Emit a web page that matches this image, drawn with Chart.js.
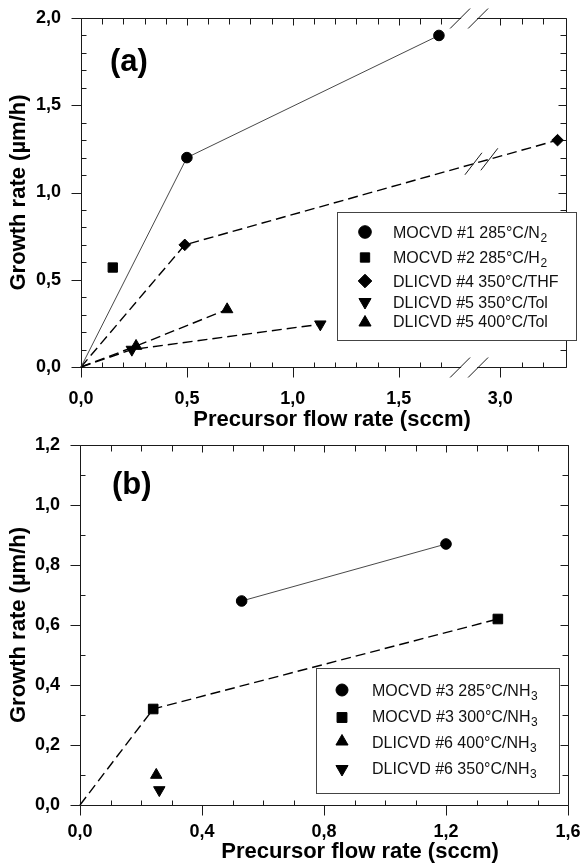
<!DOCTYPE html>
<html><head><meta charset="utf-8">
<script src="https://cdn.jsdelivr.net/npm/chart.js@4.4.1/dist/chart.umd.min.js"></script>
<style>
html,body{margin:0;padding:0;background:#fff;}
#wrap{position:relative;width:583px;height:866px;background:#fff;}
.c{position:absolute;left:0;width:583px;height:433px;}
canvas{display:block;}
</style></head><body>
<div id="wrap">
  <div class="c" style="top:0"><canvas id="ca" width="583" height="433"></canvas></div>
  <div class="c" style="top:433px"><canvas id="cb" width="583" height="433"></canvas></div>
</div>
<script>
// ---------------- Panel (a) data ----------------
const A_SERIES = ['MOCVD #1 285°C/N_2', 'MOCVD #2 285°C/H_2', 'DLICVD #4 350°C/THF', 'DLICVD #5 350°C/Tol', 'DLICVD #5 400°C/Tol'];
const A1_X = [0, 0.50, 1.69];  const A1_Y = [0, 1.20, 1.90];
const A2_X = [0.15];           const A2_Y = [0.57];
const A3_X = [0, 0.49, 3.27];  const A3_Y = [0, 0.70, 1.30];
const A4_X = [0, 0.24, 1.13];  const A4_Y = [0, 0.10, 0.245];
const A5_X = [0, 0.26, 0.69];  const A5_Y = [0, 0.12, 0.33];
const A_X_TICKS = [0, 0.5, 1.0, 1.5, 3.0];
const A_Y_TICKS = [0, 0.5, 1.0, 1.5, 2.0];
const A_X_MAX = 3.31;

// ---------------- Panel (b) data ----------------
const B_SERIES = ['MOCVD #3 285°C/NH_3', 'MOCVD #3 300°C/NH_3', 'DLICVD #6 400°C/NH_3', 'DLICVD #6 350°C/NH_3'];
const B1_X = [0.53, 1.20];     const B1_Y = [0.68, 0.87];
const B2_X = [0, 0.24, 1.37];  const B2_Y = [0, 0.32, 0.62];
const B3_X = [0.25];           const B3_Y = [0.10];
const B4_X = [0.26];           const B4_Y = [0.05];
const B_X_TICKS = [0, 0.4, 0.8, 1.2, 1.6];
const B_Y_TICKS = [0, 0.2, 0.4, 0.6, 0.8, 1.0, 1.2];

const X_TITLE = 'Precursor flow rate (sccm)';
const Y_TITLE = 'Growth rate (µm/h)';

// ---------------- axis break for panel (a) ----------------
const BREAK_SHIFT = 1.02;      // 3.0 -> 1.98 on the drawn axis
const toAxisA = v => (v > 2.2 ? v - BREAK_SHIFT : v);
const fromAxisA = v => (v > 1.84 ? v + BREAK_SHIFT : v);
const ident = v => v;
const fmt = v => (Math.round(v * 10) / 10).toFixed(1).replace('.', ',');

const FAM = '"Liberation Sans", Arial, Helvetica, sans-serif';
Chart.defaults.font.family = FAM;
Chart.defaults.color = '#000';

function range(a, b, s) { const r = []; for (let v = a; v <= b + 1e-9; v += s) r.push(Math.round(v * 100) / 100); return r; }

function pts(xs, ys, map) { return xs.map((x, i) => ({ x: map(x), y: ys[i] })); }
function ds(label, xs, ys, style, rot, r, line, map) {
  return {
    label, data: pts(xs, ys, map), showLine: !!line,
    borderColor: line === 'solid' ? '#333' : '#000',
    borderWidth: line === 'solid' ? 0.9 : 1.4,
    borderDash: line === 'dash' ? [10, 5] : [],
    pointStyle: style, pointRotation: rot,
    pointRadius: c => (c.raw && c.raw.x === 0 && c.raw.y === 0 ? 0 : r),
    pointHoverRadius: r,
    pointBackgroundColor: '#000', pointBorderColor: '#000', pointBorderWidth: 1,
    clip: false, tension: 0, fill: false
  };
}

function marker(ctx, style, x, y, r) {
  ctx.beginPath();
  if (style === 'circle') ctx.arc(x, y, r, 0, Math.PI * 2);
  else if (style === 'rect') { const s = r * Math.SQRT1_2; ctx.rect(x - s, y - s, 2 * s, 2 * s); }
  else if (style === 'rectRot') { ctx.moveTo(x - r, y); ctx.lineTo(x, y - r); ctx.lineTo(x + r, y); ctx.lineTo(x, y + r); ctx.closePath(); }
  else if (style === 'up' || style === 'down') {
    const s = style === 'up' ? -1 : 1;
    ctx.moveTo(x, y + s * r);
    ctx.lineTo(x + r * Math.sin(Math.PI * 2 / 3), y - s * r * 0.5);
    ctx.lineTo(x - r * Math.sin(Math.PI * 2 / 3), y - s * r * 0.5);
    ctx.closePath();
  }
  ctx.fillStyle = '#000'; ctx.strokeStyle = '#000'; ctx.lineWidth = 1;
  ctx.fill(); ctx.stroke();
}

function subText(ctx, label, x, y, size, subSize, subDy) {
  const parts = label.split('_');
  ctx.fillStyle = '#111';
  ctx.textBaseline = 'alphabetic'; ctx.textAlign = 'left';
  ctx.font = size + 'px ' + FAM;
  ctx.fillText(parts[0], x, y);
  if (parts[1]) {
    const w = ctx.measureText(parts[0]).width;
    ctx.font = subSize + 'px ' + FAM;
    ctx.fillText(parts[1], x + w + 0.5, y + subDy);
  }
}

function makeDecor(cfg) {
  return {
    id: 'decor' + cfg.name,
    beforeDatasetsDraw(chart) {
      const { ctx, chartArea: a } = chart;
      const xs = chart.scales.x, ys = chart.scales.y;
      const L = Math.round(a.left) + 0.5, R = Math.round(a.right) + 0.5;
      const T = Math.round(a.top) + 0.5, B = Math.round(a.bottom) + 0.5;
      ctx.save();
      ctx.strokeStyle = '#1a1a1a'; ctx.lineWidth = 1;
      const seg = (x1, y1, x2, y2) => { ctx.beginPath(); ctx.moveTo(x1, y1); ctx.lineTo(x2, y2); ctx.stroke(); };
      seg(L, T, R, T); seg(L, B, R, B); seg(L, T, L, B); seg(R, T, R, B);
      const px = v => Math.round(xs.getPixelForValue(cfg.mapX(v))) + 0.5;
      const py = v => Math.round(ys.getPixelForValue(v)) + 0.5;
      cfg.xMinor.forEach(v => { const p = px(v); seg(p, B, p, B - 5); seg(p, T, p, T + 6); });
      cfg.xMajor.forEach(v => { const p = px(v); seg(p, B, p, B + 10); seg(p, T, p, T + 7); });
      cfg.yMinor.forEach(v => { const p = py(v); seg(L, p, L + 5, p); seg(R, p, R - 6, p); });
      cfg.yMajor.forEach(v => { const p = py(v); seg(L, p, L - 10, p); seg(R, p, R - 8, p); });
      if (cfg.breakAt) {
        const p1 = xs.getPixelForValue(cfg.breakAt[0]), p2 = xs.getPixelForValue(cfg.breakAt[1]);
        ctx.fillStyle = '#fff';
        [T, B].forEach(yy => {
          ctx.fillRect(p1 + 1, yy - 1.5, p2 - p1 - 2, 3);
          seg(p1 - 10, yy + 10, p1 + 10, yy - 10);
          seg(p2 - 10, yy + 10, p2 + 10, yy - 10);
        });
      }
      // x-axis title
      ctx.fillStyle = '#000';
      ctx.font = 'bold 22px ' + FAM;
      ctx.textAlign = 'center'; ctx.textBaseline = 'alphabetic';
      ctx.fillText(X_TITLE, cfg.xTitle[0], cfg.xTitle[1]);
      ctx.restore();
    },
    afterDatasetsDraw(chart) {
      const { ctx } = chart;
      const xs = chart.scales.x;
      ctx.save();
      if (cfg.lineBreak) {
        const meta = chart.getDatasetMeta(cfg.lineBreak.ds);
        const p0 = meta.data[1], p1 = meta.data[2];
        ctx.strokeStyle = '#1a1a1a'; ctx.lineWidth = 1;
        cfg.lineBreak.at.forEach(v => {
          const x = xs.getPixelForValue(v);
          const y = p0.y + (p1.y - p0.y) * (x - p0.x) / (p1.x - p0.x);
          ctx.beginPath(); ctx.moveTo(x - 8.5, y + 11); ctx.lineTo(x + 8.5, y - 11); ctx.stroke();
        });
      }
      // legend
      const lg = cfg.legend;
      ctx.fillStyle = '#fff';
      ctx.fillRect(lg.box[0], lg.box[1], lg.box[2] - lg.box[0], lg.box[3] - lg.box[1]);
      ctx.strokeStyle = '#444'; ctx.lineWidth = 1;
      ctx.strokeRect(lg.box[0] + 0.5, lg.box[1] + 0.5, lg.box[2] - lg.box[0], lg.box[3] - lg.box[1]);
      lg.items.forEach((it, i) => {
        marker(ctx, it.style, lg.mx, it.my, it.r);
        subText(ctx, cfg.labels[i], lg.tx, it.ty, 16, it.sub || 12, it.subDy || 4);
      });
      // panel label
      ctx.fillStyle = '#000';
      ctx.font = 'bold 31px ' + FAM;
      ctx.textBaseline = 'alphabetic'; ctx.textAlign = 'left';
      ctx.fillText(cfg.panel[0], cfg.panel[1], cfg.panel[2]);
      ctx.restore();
    }
  };
}

function baseOptions(o) {
  return {
    responsive: false, animation: false, events: [],
    layout: { padding: o.pad },
    plugins: { legend: { display: false }, tooltip: { enabled: false } },
    scales: {
      x: {
        type: 'linear', min: o.xMin, max: o.xMax,
        grid: { display: false, drawTicks: false }, border: { display: false },
        afterBuildTicks: s => { s.ticks = o.xTicks.map(v => ({ value: o.mapX(v) })); },
        ticks: { autoSkip: false, maxRotation: 0, padding: o.xPad, font: { size: 18, weight: 'bold' },
                 callback: v => fmt(o.unmapX(v)) },
        title: { display: false },
        afterFit: s => { s.height = o.xH; s.paddingLeft = 0; s.paddingRight = 0; }
      },
      y: {
        type: 'linear', min: o.yMin, max: o.yMax,
        grid: { display: false, drawTicks: false }, border: { display: false },
        afterBuildTicks: s => { s.ticks = o.yTicks.map(v => ({ value: v })); },
        ticks: { autoSkip: false, padding: 20, font: { size: 18, weight: 'bold' }, callback: v => fmt(v) },
        title: { display: true, text: Y_TITLE, font: { size: 22, weight: 'bold' }, padding: { top: 6, bottom: 0 } },
        afterFit: s => { s.width = o.yW; s.paddingTop = 0; s.paddingBottom = 0; }
      }
    }
  };
}

// ---------------- Chart (a) ----------------
new Chart(document.getElementById('ca'), {
  type: 'scatter',
  data: {
    datasets: [
      ds(A_SERIES[0], A1_X, A1_Y, 'circle', 0, 5.3, 'solid', toAxisA),
      ds(A_SERIES[1], A2_X, A2_Y, 'rect', 0, 6.6, null, toAxisA),
      ds(A_SERIES[2], A3_X, A3_Y, 'rectRot', 0, 5.8, 'dash', toAxisA),
      ds(A_SERIES[3], A4_X, A4_Y, 'triangle', 180, 6.6, 'dash', toAxisA),
      ds(A_SERIES[4], A5_X, A5_Y, 'triangle', 0, 6.6, 'dash', toAxisA)
    ]
  },
  options: baseOptions({
    pad: { left: 0, top: 18, right: 17, bottom: 0 },
    xMin: 0, xMax: toAxisA(A_X_MAX), yMin: 0, yMax: 2.0,
    xTicks: A_X_TICKS, yTicks: A_Y_TICKS, mapX: toAxisA, unmapX: fromAxisA,
    xPad: 21.5, xH: 66, yW: 81
  }),
  plugins: [makeDecor({
    name: 'a', mapX: toAxisA,
    xMajor: A_X_TICKS, xMinor: range(0.1, 1.7, 0.1).concat([3.1, 3.2]).filter(v => A_X_TICKS.indexOf(v) < 0),
    yMajor: A_Y_TICKS, yMinor: range(0.1, 1.9, 0.1).filter(v => A_Y_TICKS.indexOf(v) < 0),
    breakAt: [1.79, 1.875],
    lineBreak: { ds: 2, at: [1.853, 1.928] },
    labels: A_SERIES,
    xTitle: [332, 425.5],
    legend: {
      box: [337, 212, 576, 340], mx: 365, tx: 393,
      items: [
        { style: 'circle', r: 6.3, my: 232, ty: 238 },
        { style: 'rect', r: 6.6, my: 257.5, ty: 262.5 },
        { style: 'rectRot', r: 6.8, my: 281, ty: 286.8 },
        { style: 'down', r: 7, my: 302, ty: 307.5 },
        { style: 'up', r: 7, my: 322.5, ty: 326.7 }
      ]
    },
    panel: ['(a)', 110, 70.5]
  })]
});

// ---------------- Chart (b) ----------------
new Chart(document.getElementById('cb'), {
  type: 'scatter',
  data: {
    datasets: [
      ds(B_SERIES[0], B1_X, B1_Y, 'circle', 0, 5.3, 'solid', ident),
      ds(B_SERIES[1], B2_X, B2_Y, 'rect', 0, 6.8, 'dash', ident),
      ds(B_SERIES[2], B3_X, B3_Y, 'triangle', 0, 6.6, null, ident),
      ds(B_SERIES[3], B4_X, B4_Y, 'triangle', 180, 6.6, null, ident)
    ]
  },
  options: baseOptions({
    pad: { left: 0, top: 12, right: 15, bottom: 0 },
    xMin: 0, xMax: 1.6, yMin: 0, yMax: 1.2,
    xTicks: B_X_TICKS, yTicks: B_Y_TICKS, mapX: ident, unmapX: ident,
    xPad: 16, xH: 61, yW: 80
  }),
  plugins: [makeDecor({
    name: 'b', mapX: ident,
    xMajor: B_X_TICKS, xMinor: range(0.1, 1.5, 0.1).filter(v => B_X_TICKS.indexOf(v) < 0),
    yMajor: B_Y_TICKS, yMinor: range(0.1, 1.1, 0.1).filter(v => B_Y_TICKS.indexOf(v) < 0),
    breakAt: null, lineBreak: null,
    labels: B_SERIES,
    xTitle: [360, 425],
    legend: {
      box: [316, 235, 559, 360], mx: 342, tx: 372,
      items: [
        { style: 'circle', r: 6, my: 257, ty: 263 },
        { style: 'rect', r: 7, my: 284.5, ty: 289 },
        { style: 'up', r: 7, my: 308.5, ty: 314.5 },
        { style: 'down', r: 7, my: 336, ty: 341 }
      ]
    },
    panel: ['(b)', 112, 60.7]
  })]
});
</script>
</body></html>
